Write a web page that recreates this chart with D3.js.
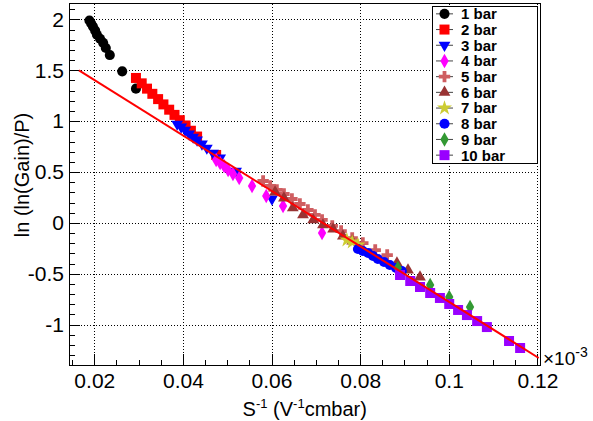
<!DOCTYPE html>
<html>
<head>
<meta charset="utf-8">
<script src="https://cdn.jsdelivr.net/npm/d3@7"></script>
<style>
  body { margin: 0; background: #fff; }
  text { font-family: "Liberation Sans", Arial, sans-serif; }
</style>
</head>
<body>
<div id="container"></div>
<script>
/* 1. CONSTANTS */
const width = 593, height = 421;
const frame = {left: 69, right: 540.5, top: 3.5, bottom: 365};

/* 2. DATA */
const seriesNames  = ["1 bar","2 bar","3 bar","4 bar","5 bar","6 bar","7 bar","8 bar","9 bar","10 bar"];
const seriesColors = ["#000000","#ff0000","#0000ff","#ff00ff","#cf5e61","#993333","#cccc33","#0000ff","#339933","#9900ff"];
const seriesShapes = ["circle","square","triDown","diamond","cross","triUp","star","circle","diamond","square"];

const x1 = [0.0189,0.0193,0.0197,0.0202,0.0206,0.0213,0.0220,0.0226,0.0235,0.0263,0.0294];
const y1 = [1.99,1.96,1.93,1.89,1.85,1.81,1.77,1.72,1.65,1.49,1.32];
const x2 = [0.0294,0.0307,0.0319,0.0331,0.0344,0.0356,0.0369,0.0381,0.0393,0.0406,0.0418,0.0432,0.0475];
const y2 = [1.425,1.372,1.320,1.269,1.217,1.165,1.113,1.062,1.010,0.958,0.906,0.849,0.668];
const x3 = [0.0387,0.0396,0.0405,0.0414,0.0423,0.0432,0.0443,0.0454,0.0468,0.0484,0.0520,0.0601];
const y3 = [0.972,0.943,0.913,0.874,0.844,0.815,0.776,0.736,0.687,0.638,0.510,0.235];
const x4 = [0.0475,0.0484,0.0493,0.0502,0.0513,0.0527,0.0556,0.0588,0.0626,0.0714];
const y4 = [0.618,0.589,0.559,0.520,0.481,0.442,0.363,0.265,0.166,-0.099];
const x5 = [0.0581,0.0597,0.0612,0.0628,0.0646,0.0664,0.0682,0.0698,0.0714,0.0737,0.0757,0.0782,0.0806,0.0834,0.0861];
const y5 = [0.412,0.363,0.324,0.284,0.235,0.186,0.127,0.078,0.029,-0.030,-0.080,-0.149,-0.198,-0.267,-0.316];
const x6 = [0.0608,0.0628,0.0648,0.0671,0.0694,0.0716,0.0739,0.0761,0.0782,0.0883,0.0908,0.0935];
const y6 = [0.304,0.245,0.147,0.078,0.029,-0.020,-0.060,-0.129,-0.178,-0.394,-0.463,-0.532];
const x7 = [0.0770,0.0782,0.0795];
const y7 = [-0.168,-0.188,-0.217];
const x8 = [0.0795,0.0806,0.0818,0.0829,0.0840,0.0854,0.0867,0.0881,0.0894];
const y8 = [-0.257,-0.276,-0.296,-0.325,-0.355,-0.384,-0.414,-0.443,-0.473];
const x9 = [0.0885,0.0958,0.1001,0.1048];
const y9 = [-0.443,-0.610,-0.728,-0.827];
const x10 = [0.0890,0.0913,0.0935,0.0958,0.0980,0.1001,0.1021,0.1041,0.1064,0.1086,0.1136,0.1161];
const y10 = [-0.512,-0.571,-0.630,-0.689,-0.738,-0.797,-0.856,-0.906,-0.965,-1.024,-1.161,-1.230];

const seriesX = [x1,x2,x3,x4,x5,x6,x7,x8,x9,x10];
const seriesY = [y1,y2,y3,y4,y5,y6,y7,y8,y9,y10];

// red fit line end points
const fitX = [0.01654, 0.1203];
const fitY = [1.5, -1.328];

const xTicks = [0.02,0.04,0.06,0.08,0.1,0.12];
const yTicks = [-1,-0.5,0,0.5,1,1.5,2];

/* 3. SCALES */
const xScale = d3.scaleLinear().domain([0.01429, 0.1207]).range([frame.left, frame.right]);
const yScale = d3.scaleLinear().domain([-1.397, 2.157]).range([frame.bottom, frame.top]);

const xMinor = d3.range(0.015, 0.1206, 0.005).map(d => +d.toFixed(3));
const yMinor = d3.range(-1.3, 2.16, 0.1).map(d => +d.toFixed(1));

/* 4. SVG */
const svg = d3.select("#container").append("svg")
  .attr("width", width).attr("height", height)
  .style("display", "block");

svg.append("rect").attr("width", width).attr("height", height).attr("fill", "#fff");

// grid (dotted)
const grid = svg.append("g").attr("stroke", "#000").attr("stroke-width", 1)
  .attr("stroke-dasharray", "1,2").attr("shape-rendering", "crispEdges");
grid.selectAll("line.gx").data(xTicks).join("line").attr("class", "gx")
  .attr("x1", d => Math.round(xScale(d)) + 0.5).attr("x2", d => Math.round(xScale(d)) + 0.5)
  .attr("y1", frame.top).attr("y2", frame.bottom);
grid.selectAll("line.gy").data(yTicks).join("line").attr("class", "gy")
  .attr("y1", d => Math.round(yScale(d)) + 0.5).attr("y2", d => Math.round(yScale(d)) + 0.5)
  .attr("x1", frame.left).attr("x2", frame.right);

// frame
svg.append("rect")
  .attr("x", frame.left).attr("y", frame.top)
  .attr("width", frame.right - frame.left).attr("height", frame.bottom - frame.top)
  .attr("fill", "none").attr("stroke", "#000").attr("stroke-width", 1)
  .attr("shape-rendering", "crispEdges");

// axes, ticks pointing inwards
const xAxisG = svg.append("g").attr("transform", `translate(0,${frame.bottom})`);
xAxisG.call(d3.axisBottom(xScale).tickValues(xMinor).tickSize(-5.5).tickSizeOuter(0).tickFormat(""));
xAxisG.call(g => g.select(".domain").remove());
const xMajG = svg.append("g").attr("transform", `translate(0,${frame.bottom})`);
xMajG.call(d3.axisBottom(xScale).tickValues(xTicks).tickSize(-11).tickSizeOuter(0)
  .tickPadding(8).tickFormat(d => String(+d.toFixed(2))));
xMajG.select(".domain").remove();

const yAxisG = svg.append("g").attr("transform", `translate(${frame.left},0)`);
yAxisG.call(d3.axisLeft(yScale).tickValues(yMinor).tickSize(-5.5).tickSizeOuter(0).tickFormat(""));
yAxisG.select(".domain").remove();
const yMajG = svg.append("g").attr("transform", `translate(${frame.left},0)`);
yMajG.call(d3.axisLeft(yScale).tickValues(yTicks).tickSize(-11).tickSizeOuter(0)
  .tickPadding(5).tickFormat(d => String(d)));
yMajG.select(".domain").remove();

svg.selectAll(".tick line").attr("stroke", "#000").attr("shape-rendering", "crispEdges");
svg.selectAll(".tick text").attr("fill", "#000").attr("font-size", 21)
  .attr("font-family", "Liberation Sans, Arial, sans-serif");

// axis titles
const xt = svg.append("text").attr("x", (frame.left + frame.right) / 2).attr("y", 416)
  .attr("text-anchor", "middle").attr("font-size", 20);
xt.append("tspan").text("S");
xt.append("tspan").attr("font-size", 13).attr("dy", -8).text("-1");
xt.append("tspan").attr("dy", 8).text(" (V");
xt.append("tspan").attr("font-size", 13).attr("dy", -8).text("-1");
xt.append("tspan").attr("dy", 8).text("cmbar)");

svg.append("text").attr("transform", "translate(29,175) rotate(-90)")
  .attr("text-anchor", "middle").attr("font-size", 20).text("ln (ln(Gain)/P)");

const ex = svg.append("text").attr("x", 543).attr("y", 365).attr("font-size", 19);
ex.append("tspan").text("×10");
ex.append("tspan").attr("font-size", 14).attr("dy", -8).text("-3");

/* 5. MARKERS */
const symbolFor = {
  circle: d3.symbol(d3.symbolCircle, 80),
  square: d3.symbol(d3.symbolSquare, 100),
  triDown: d3.symbol(d3.symbolTriangle, 60),
  triUp: d3.symbol(d3.symbolTriangle, 60),
  diamond: d3.symbol(d3.symbolDiamond, 60),
  cross: d3.symbol(d3.symbolCross, 72),
  star: d3.symbol(d3.symbolStar, 70)
};
const rot = s => s === "triDown" ? " rotate(180)" : "";

const plot = svg.append("g");
seriesNames.forEach((name, i) => {
  const pts = seriesX[i].map((d, j) => ({x: d, y: seriesY[i][j]}));
  plot.append("g").selectAll("path").data(pts).join("path")
    .attr("d", symbolFor[seriesShapes[i]]())
    .attr("transform", d => `translate(${xScale(d.x)},${yScale(d.y)})${rot(seriesShapes[i])}`)
    .attr("fill", seriesColors[i]);
});

// fit line
svg.append("line")
  .attr("x1", xScale(fitX[0])).attr("y1", yScale(fitY[0]))
  .attr("x2", xScale(fitX[1])).attr("y2", yScale(fitY[1]))
  .attr("stroke", "#ff0000").attr("stroke-width", 2);

/* 6. LEGEND */
const leg = {x: 432, y: 6, w: 105, h: 157};
svg.append("rect").attr("x", leg.x + 0.5).attr("y", leg.y + 0.5)
  .attr("width", leg.w).attr("height", leg.h)
  .attr("fill", "#fff").attr("stroke", "#000").attr("stroke-width", 1);
const rowH = leg.h / seriesNames.length;
const rows = svg.append("g").selectAll("g").data(seriesNames).join("g")
  .attr("transform", (d, i) => `translate(0,${leg.y + rowH * (i + 0.5)})`);
rows.append("line").attr("x1", 436).attr("x2", 453).attr("stroke", "#444").attr("stroke-width", 1);
rows.append("path")
  .attr("d", (d, i) => symbolFor[seriesShapes[i]]())
  .attr("transform", (d, i) => `translate(444.5,0)${rot(seriesShapes[i])}`)
  .attr("fill", (d, i) => seriesColors[i]);
rows.append("text").attr("x", 461).attr("dy", "0.36em")
  .attr("font-size", 15).attr("font-weight", "bold").text(d => d);
</script>
</body>
</html>
